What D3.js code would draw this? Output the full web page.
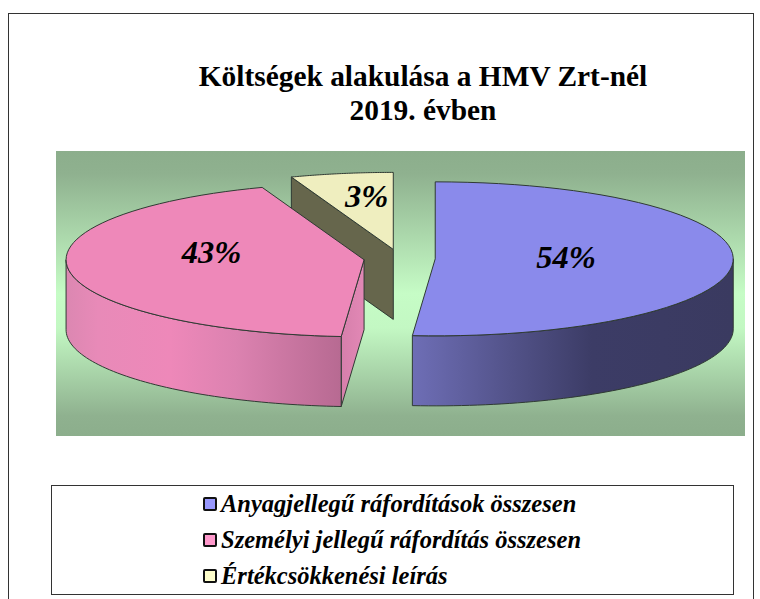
<!DOCTYPE html>
<html>
<head>
<meta charset="utf-8">
<script src="https://cdn.jsdelivr.net/npm/d3@7/dist/d3.min.js"></script>
<style>
html,body{margin:0;padding:0;background:#fff;}
svg{display:block;}
text{font-family:"Liberation Serif","Times New Roman",serif;fill:#000;}
</style>
</head>
<body>
<svg id="chart" width="760" height="599"></svg>
<script>
const titleLines = ["Költségek alakulása a HMV Zrt-nél", "2019. évben"];
const categories = ["Anyagjellegű ráfordítások összesen", "Személyi jellegű ráfordítás összesen", "Értékcsökkenési leírás"];
const shares = [54, 43, 3];
const valueLabels = ["54%", "43%", "3%"];

const svg = d3.select("#chart");

// Pie geometry of the tilted, exploded chart
const C = {x: 399.5, y: 258.5, rx: 298, ry: 77, depth: 70, explode: 0.12};
const tau = Math.PI * 2;
// The drawn 3-D pie compresses its sweep: maps true pie angle to drawn angle (degrees)
const drawnAngle = d3.scaleLinear().domain([0, 194.4, 349.2, 360]).range([0, 184.4, 340, 360]);
const toDrawn = a => drawnAngle(a * 360 / tau) * tau / 360;

const groundX = d3.scaleLinear().domain([-1, 1]).range([-C.rx, C.rx]);
const groundY = d3.scaleLinear().domain([-1, 1]).range([C.ry, -C.ry]);

const topColors  = ["#8a8aeb", "#ee88b9", "#efeebf"];
const swatches   = ["#9999ff", "#ff99cc", "#ffffcc"];
const wallColor  = "#66664c";
const edge = "#2f3a33";
const labelNudge = [[1, -3], [1, -13], [9, -1]];
const labelK = [0.436, 0.52, 0.69];

const defs = svg.append("defs");
function hGrad(id, x1, x2, stops) {
  const g = defs.append("linearGradient").attr("id", id)
    .attr("gradientUnits", "userSpaceOnUse")
    .attr("x1", x1).attr("x2", x2).attr("y1", 0).attr("y2", 0);
  stops.forEach(s => g.append("stop").attr("offset", s[0]).attr("stop-color", s[1]));
}
const bg = defs.append("linearGradient").attr("id", "bg").attr("x1", 0).attr("x2", 0).attr("y1", 0).attr("y2", 1);
[[0, "#8cae8c"], [0.08, "#8fb18f"], [0.5, "#c6fcc6"], [0.62, "#c3f8c3"], [0.93, "#8fb18f"], [1, "#8cae8c"]]
  .forEach(s => bg.append("stop").attr("offset", s[0]).attr("stop-color", s[1]));
hGrad("blueSide", 412, 733, [[0, "#6e6eb6"], [0.3, "#53538a"], [0.56, "#3c3c66"], [1, "#3a3a60"]]);
hGrad("pinkSide", 65, 341, [[0, "#db87b1"], [0.12, "#e88ab8"], [0.38, "#ee88b9"], [0.62, "#dc82b0"], [1, "#b76a92"]]);
hGrad("pinkWall", 341, 364, [[0, "#d67fab"], [1, "#e288b5"]]);

// Outer frame
svg.append("rect").attr("x", 8.5).attr("y", 13.5).attr("width", 745).attr("height", 590)
  .attr("fill", "#fff").attr("stroke", "#333").attr("stroke-width", 1);

// Title
svg.selectAll("text.title").data(titleLines).join("text").attr("class", "title")
  .attr("x", 423).attr("y", (d, i) => 86 + i * 34)
  .attr("text-anchor", "middle").attr("font-size", 29.4).attr("font-weight", "bold")
  .text(d => d);

// Plot background
svg.append("rect").attr("x", 56).attr("y", 151).attr("width", 689).attr("height", 285).attr("fill", "url(#bg)");

// Slices
const arcs = d3.pie().sort(null).value(d => d)(shares).map((a, i) => {
  const start = toDrawn(a.startAngle), end = toDrawn(a.endAngle), mid = (start + end) / 2;
  return {i, start, end, mid,
    cx: C.x + groundX(Math.sin(mid)) * C.explode,
    cy: C.y + (groundY(Math.cos(mid))) * C.explode};
});
const rim = (s, t0, t1) => d3.range(0, 61).map(k => {
  const t = t0 + (t1 - t0) * k / 60;
  return [s.cx + groundX(Math.sin(t)), s.cy + groundY(Math.cos(t))];
});
const line = d3.line();
const down = p => [p[0], p[1] + C.depth];
const closed = pts => line(pts) + "Z";
const stroke = sel => sel.attr("stroke", edge).attr("stroke-width", 1).attr("stroke-linejoin", "round");
const pieG = svg.append("g");

function wallAt(s, t, fill) {
  const a = [s.cx, s.cy], b = rim(s, t, t)[0];
  pieG.append("path").attr("d", closed([a, b, down(b), down(a)])).attr("fill", fill).call(stroke);
}
function sideFace(s, t0, t1, fill) {
  const lo = Math.max(s.start, t0), hi = Math.min(s.end, t1);
  if (lo >= hi) return;
  const r = rim(s, lo, hi);
  pieG.append("path").attr("d", closed(r.concat(r.map(down).reverse()))).attr("fill", fill).call(stroke);
}
function topFace(s) {
  pieG.append("path").attr("d", closed([[s.cx, s.cy]].concat(rim(s, s.start, s.end))))
    .attr("fill", topColors[s.i]).call(stroke);
}
// back to front: small slice, then the pink, then the blue
wallAt(arcs[2], arcs[2].start, wallColor);
topFace(arcs[2]);
wallAt(arcs[1], arcs[1].start, "url(#pinkWall)");
sideFace(arcs[1], tau / 4, tau * 3 / 4, "url(#pinkSide)");
topFace(arcs[1]);
sideFace(arcs[0], tau / 4, tau * 3 / 4, "url(#blueSide)");
topFace(arcs[0]);

// Value labels
svg.selectAll("text.val").data(arcs).join("text").attr("class", "val")
  .attr("x", s => s.cx + groundX(Math.sin(s.mid)) * labelK[s.i] + labelNudge[s.i][0])
  .attr("y", s => s.cy + groundY(Math.cos(s.mid)) * labelK[s.i] + labelNudge[s.i][1] + 11)
  .attr("text-anchor", "middle").attr("font-size", 32.5)
  .attr("font-weight", "bold").attr("font-style", "italic")
  .text(s => valueLabels[s.i]);

// Legend
svg.append("rect").attr("x", 51.5).attr("y", 485.5).attr("width", 682).attr("height", 109)
  .attr("fill", "#fff").attr("stroke", "#333").attr("stroke-width", 1);
const rowY = d3.scalePoint().domain(d3.range(categories.length)).range([504, 576]);
const lg = svg.selectAll("g.lg").data(categories).join("g").attr("class", "lg");
lg.append("rect").attr("x", 204).attr("y", (d, i) => rowY(i) - 6).attr("width", 12).attr("height", 12)
  .attr("fill", (d, i) => swatches[i]).attr("stroke", "#111").attr("stroke-width", 2).attr("rx", 1);
lg.append("text").attr("x", 221).attr("y", (d, i) => rowY(i) + 7.5)
  .attr("font-size", 24.5).attr("font-weight", "bold").attr("font-style", "italic").text(d => d);
</script>
</body>
</html>
